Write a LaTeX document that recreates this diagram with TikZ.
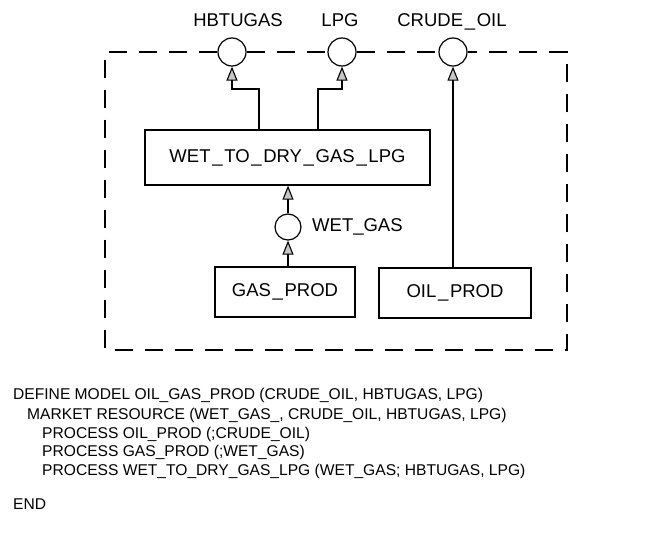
\documentclass[tikz,border=0pt]{standalone}
\usepackage{fontspec}
\setmainfont{Liberation Sans}
\usetikzlibrary{arrows.meta}
\newcommand{\us}{\kern1.7pt\_\kern1.7pt}
\begin{document}
\begin{tikzpicture}[x=1pt,y=-1pt,
  procbox/.style={draw, line width=1.2pt, minimum height=50pt, inner sep=0pt, font=\fontsize{18.5}{20}\selectfont},
  res/.style={draw, circle, line width=1.2pt, minimum size=28pt, inner sep=0pt},
  lbl/.style={font=\fontsize{18.5}{20}\selectfont, inner sep=0pt},
  code/.style={font=\fontsize{15.6}{19}\selectfont, inner sep=0pt, anchor=base west},
  flow/.style={line width=1.1pt, -{Triangle[length=14pt,width=11pt,fill=gray!45]}},
  border/.style={line width=1.3pt, dash pattern=on 18pt off 12pt}]
\useasboundingbox (0,0) rectangle (663,546);
% resources on the border
\node[res] (hb) at (232,52) {};
\node[res] (lpg) at (342,52) {};
\node[res] (co) at (453,52) {};
\node[lbl, anchor=base] (hbl) at (238,26) {HBTUGAS};
\node[lbl, anchor=base] (lpgl) at (340,26) {LPG};
\node[lbl, anchor=base] (col) at (452,26) {CRUDE\us OIL};
% border
\coordinate (tl) at (105,52);
\coordinate (tr) at (567,52);
\coordinate (br) at (567,350);
\coordinate (bl) at (105,350);
\draw[border] (hb.west) -- (tl) -- (bl) -- (br) -- (tr) -- (co.east);
\draw[border] (hb.east) -- (lpg.west);
\draw[border] (lpg.east) -- (co.west);
% processes
\node[procbox, minimum width=285pt, minimum height=55pt] (wtd) at (287.5,157.5) {WET\us TO\us DRY\us GAS\us LPG};
\node[procbox, minimum width=140pt] (gas) at (285,292) {GAS\us PROD};
\node[procbox, minimum width=152pt] (oil) at (455,293) {OIL\us PROD};
\node[res, minimum size=26pt] (wg) at (288,227) {};
\node[lbl, anchor=west] (wgl) at (312,227) {WET\_GAS};
% flows
\coordinate (a1) at (259,89);
\coordinate (a2) at (318,89);
\draw[flow] (wtd.north -| a1) -- (a1) -| (hb.south);
\draw[flow] (wtd.north -| a2) -- (a2) -| (lpg.south);
\draw[flow] (oil.north -| co) -- (co.south);
\draw[flow] (gas.north -| wg) -- (wg.south);
\draw[flow] (wg.north) -- (wtd.south -| wg);
% code
\node[code] (c1) at (13,399) {DEFINE MODEL OIL\_GAS\_PROD (CRUDE\_OIL, HBTUGAS, LPG)};
\node[code] (c2) at (27,419) {MARKET RESOURCE (WET\_GAS\_, CRUDE\_OIL, HBTUGAS, LPG)};
\node[code] (c3) at (42,438) {PROCESS OIL\_PROD (;CRUDE\_OIL)};
\node[code] (c4) at (42,456) {PROCESS GAS\_PROD (;WET\_GAS)};
\node[code] (c5) at (42,475) {PROCESS WET\_TO\_DRY\_GAS\_LPG (WET\_GAS; HBTUGAS, LPG)};
\node[code] (c6) at (13,509) {END};
\end{tikzpicture}
\end{document}
